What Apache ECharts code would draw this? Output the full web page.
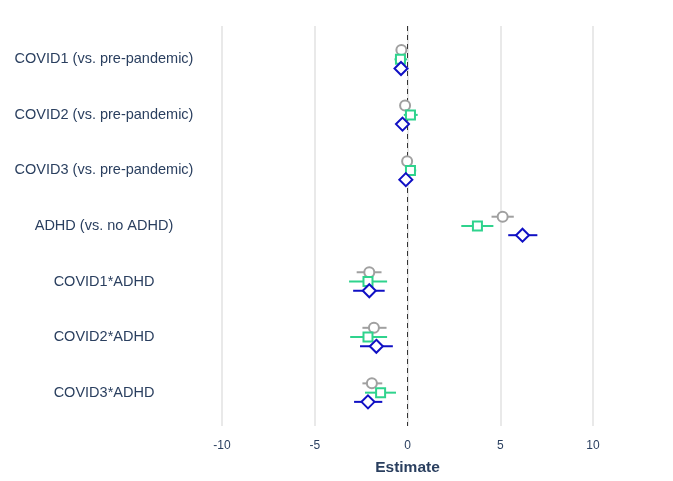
<!DOCTYPE html>
<html>
<head>
<meta charset="utf-8">
<script src="https://cdn.jsdelivr.net/npm/echarts@6/dist/echarts.min.js"></script>
<style>
html,body{margin:0;padding:0;background:#fff;}
#chart{width:673px;height:481px;}
</style>
</head>
<body>
<div id="chart"></div>
<script>
const categories = [
  'COVID1 (vs. pre-pandemic)',
  'COVID2 (vs. pre-pandemic)',
  'COVID3 (vs. pre-pandemic)',
  'ADHD (vs. no ADHD)',
  'COVID1*ADHD',
  'COVID2*ADHD',
  'COVID3*ADHD'
];
const xTicks = [-10, -5, 0, 5, 10];

// [estimate, low, high] per category
const grayEst  = [-0.33, -0.13, -0.02, 5.13, -2.06, -1.81, -1.92];
const grayLow  = [-0.45, -0.30, -0.15, 4.53, -2.74, -2.43, -2.43];
const grayHigh = [-0.20,  0.02,  0.10, 5.73, -1.40, -1.13, -1.36];

const greenEst  = [-0.38, 0.16, 0.16, 3.77, -2.13, -2.13, -1.45];
const greenLow  = [-0.70, -0.20, -0.10, 2.90, -3.15, -3.09, -2.29];
const greenHigh = [-0.02, 0.55, 0.47, 4.63, -1.10, -1.10, -0.62];

const blueEst  = [-0.35, -0.27, -0.09, 6.20, -2.06, -1.68, -2.13];
const blueLow  = [-0.50, -0.40, -0.22, 5.43, -2.93, -2.56, -2.88];
const blueHigh = [-0.20, -0.12,  0.05, 7.00, -1.23, -0.79, -1.36];

const GRAY = '#a0a0a0', GREEN = '#2fd38d', BLUE = '#1010c4';

function build(est, low, high) {
  return est.map((v, i) => [v, low[i], high[i], i]);
}

function makeSeries(name, est, low, high, color, offset, shape) {
  return {
    name: name,
    type: 'custom',
    data: build(est, low, high),
    encode: { x: [0, 1, 2], y: 3 },
    z: 3,
    renderItem: function (params, api) {
      const c = api.coord([api.value(0), api.value(3)]);
      const l = api.coord([api.value(1), api.value(3)]);
      const h = api.coord([api.value(2), api.value(3)]);
      const y = c[1] + offset;
      const children = [{
        type: 'line',
        shape: { x1: l[0], y1: y, x2: h[0], y2: y },
        style: { stroke: color, lineWidth: 2 }
      }];
      const st = { fill: '#fff', stroke: color, lineWidth: 2 };
      if (shape === 'circle') {
        children.push({ type: 'circle', shape: { cx: c[0], cy: y, r: 5 }, style: st });
      } else if (shape === 'square') {
        children.push({ type: 'rect', shape: { x: c[0] - 4.5, y: y - 4.5, width: 9, height: 9 }, style: st });
      } else {
        const r = 6.5;
        children.push({ type: 'polygon', shape: { points: [[c[0], y - r], [c[0] + r, y], [c[0], y + r], [c[0] - r, y]] }, style: st });
      }
      return { type: 'group', children: children };
    }
  };
}

const chart = echarts.init(document.getElementById('chart'));
const series = [
  makeSeries('gray', grayEst, grayLow, grayHigh, GRAY, -9.3, 'circle'),
  makeSeries('green', greenEst, greenLow, greenHigh, GREEN, 0, 'square'),
  makeSeries('blue', blueEst, blueLow, blueHigh, BLUE, 9.2, 'diamond')
];
series[0].markLine = {
  silent: true,
  symbol: 'none',
  label: { show: false },
  lineStyle: { color: '#333', type: [5, 4], width: 1 },
  data: [{ xAxis: 0 }],
  z: 2
};

chart.setOption({
  animation: false,
  backgroundColor: '#fff',
  grid: { left: 222, right: 80, top: 26, bottom: 55, containLabel: false, outerBoundsMode: 'none' },
  xAxis: {
    type: 'value',
    min: -10, max: 10, interval: 5,
    name: 'Estimate',
    nameLocation: 'middle',
    nameGap: 34,
    nameTextStyle: { color: '#2a3f5f', fontSize: 15.5, fontWeight: 'bold', fontFamily: 'Liberation Sans, Arial, sans-serif' },
    axisLine: { show: false },
    axisTick: { show: false },
    axisLabel: {
      color: '#2a3f5f', fontSize: 12, margin: 14,
      fontFamily: 'Liberation Sans, Arial, sans-serif',
      customValues: xTicks
    },
    splitLine: { show: true, lineStyle: { color: '#e2e2e2', width: 1.5 } }
  },
  yAxis: {
    type: 'value',
    inverse: true,
    min: -0.6, max: 6.6,
    axisLine: { show: false },
    axisTick: { show: false },
    splitLine: { show: false },
    axisLabel: {
      customValues: [0, 1, 2, 3, 4, 5, 6],
      formatter: function (v) { return categories[Math.round(v)] || ''; },
      align: 'center',
      margin: 118,
      padding: [4, 0, 0, 0],
      color: '#2a3f5f', fontSize: 14.5,
      fontFamily: 'Liberation Sans, Arial, sans-serif'
    }
  },
  series: series
});
</script>
</body>
</html>
